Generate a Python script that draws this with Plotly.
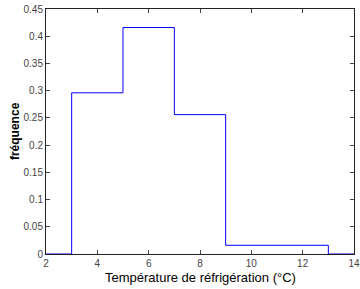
import plotly.graph_objects as go

# Histogram (stairs) data
bin_edges = [2, 3, 5, 7, 9, 13, 14]
frequencies = [0, 0.296, 0.416, 0.256, 0.016, 0, 0]

x_ticks = [2, 4, 6, 8, 10, 12, 14]
y_ticks = [0, 0.05, 0.1, 0.15, 0.2, 0.25, 0.3, 0.35, 0.4, 0.45]
y_tick_labels = ["0", "0.05", "0.1", "0.15", "0.2", "0.25", "0.3", "0.35", "0.4", "0.45"]

x_label = "Température de réfrigération (°C)"
y_label = "fréquence"

fig = go.Figure()
fig.add_trace(go.Scatter(
    x=bin_edges, y=frequencies, mode="lines", line_shape="hv",
    line=dict(color="#0000ff", width=1), showlegend=False, hoverinfo="skip"))

fig.update_layout(
    width=360, height=289,
    margin=dict(l=45.5, r=6, t=9, b=35, autoexpand=False),
    paper_bgcolor="white", plot_bgcolor="white",
    font=dict(family="Liberation Sans, Arial, sans-serif", size=10, color="#333333"),
)
fig.update_xaxes(
    range=[2, 14], tickvals=x_ticks, ticks="inside", ticklen=4, tickcolor="#444",
    showline=True, linecolor="#222", linewidth=1, mirror="ticks", showgrid=False, zeroline=False,
    tickfont=dict(size=10, color="#444"), automargin=False,
)
fig.update_yaxes(
    range=[0, 0.45], tickvals=y_ticks, ticktext=y_tick_labels, ticks="inside", ticklen=4,
    tickcolor="#444", showline=True, linecolor="#222", linewidth=1, mirror="ticks",
    showgrid=False, zeroline=False, tickfont=dict(size=10, color="#444"), automargin=False,
)

fig.add_annotation(text=x_label, xref="paper", yref="paper", x=0.5, y=-23 / 245,
                   xanchor="center", yanchor="middle", showarrow=False,
                   font=dict(size=13, color="black"))
fig.add_annotation(text="<b>" + y_label + "</b>", xref="paper", yref="paper",
                   x=(14 - 45.5) / 308.5, y=0.5, textangle=-90,
                   xanchor="center", yanchor="middle", showarrow=False,
                   font=dict(size=12, color="black"))

fig.write_html("out.html", config={"displayModeBar": False},
               post_script="document.body.style.margin='0';")
